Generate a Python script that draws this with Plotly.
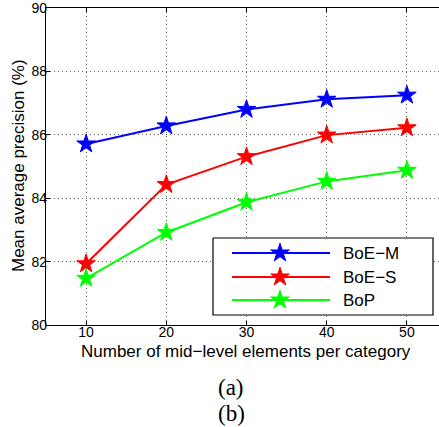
import plotly.graph_objects as go

# ---- data ----
elements = [10, 20, 30, 40, 50]
boe_m = [85.71, 86.28, 86.80, 87.12, 87.25]
boe_s = [81.93, 84.43, 85.31, 85.99, 86.22]
bop = [81.47, 82.92, 83.87, 84.53, 84.88]
series_names = ["BoE\u2212M", "BoE\u2212S", "BoP"]
series_colors = ["#0000ff", "#ff0000", "#00ff00"]
x_ticks = [10, 20, 30, 40, 50]
y_ticks = [80, 82, 84, 86, 88, 90]

W, H = 439, 427
L, R, T, B = 46, 0, 8, 102
PW, PH = W - L - R, H - T - B

FONT = "Liberation Sans, Arial, Helvetica, sans-serif"
SERIF = "Liberation Serif, Times New Roman, serif"


def py(page_y):
    """page pixel y -> paper y"""
    return (T + PH - page_y) / PH


def px(page_x):
    return (page_x - L) / PW


fig = go.Figure()
for name, vals, col in zip(series_names, [boe_m, boe_s, bop], series_colors):
    fig.add_trace(go.Scatter(
        x=elements, y=vals, name=name, mode="lines+markers",
        line=dict(color=col, width=2),
        marker=dict(symbol="star", size=14, color=col,
                    line=dict(color=col, width=1)),
        showlegend=False, xaxis="x", yaxis="y"))

# ---- manual legend (MATLAB style) on a pixel overlay axis ----
bx0, bx1, by0, by1 = 167, 387, 230, 307
rows = [245, 269, 292]
line_x = [186, 284]
star_x = 234
text_x = 295
fig.add_trace(go.Scatter(x=[bx0, bx1, bx1, bx0, bx0], y=[by0, by0, by1, by1, by0],
                         mode="lines", fill="toself", fillcolor="white",
                         line=dict(color="black", width=1.2), showlegend=False,
                         hoverinfo="skip", xaxis="x2", yaxis="y2"))
for name, col, ry in zip(series_names, series_colors, rows):
    fig.add_trace(go.Scatter(x=line_x, y=[ry, ry], mode="lines",
                             line=dict(color=col, width=2), showlegend=False,
                             hoverinfo="skip", xaxis="x2", yaxis="y2"))
    fig.add_trace(go.Scatter(x=[star_x], y=[ry], mode="markers",
                             marker=dict(symbol="star", size=14, color=col,
                                         line=dict(color=col, width=1)),
                             showlegend=False, hoverinfo="skip",
                             xaxis="x2", yaxis="y2"))
    fig.add_annotation(x=text_x, y=ry, xref="x2", yref="y2", text=name,
                       showarrow=False, xanchor="left", yanchor="middle",
                       font=dict(family=FONT, size=17, color="black"))

# axis titles and captions
fig.add_annotation(x=px(246), y=py(351), xref="paper", yref="paper",
                   text="Number of mid\u2212level elements per category",
                   showarrow=False, xanchor="center", yanchor="middle",
                   font=dict(family=FONT, size=17, color="black"))
fig.add_annotation(x=px(18), y=py(166), xref="paper", yref="paper",
                   text="Mean average precision (%)", textangle=-90,
                   showarrow=False, xanchor="center", yanchor="middle",
                   font=dict(family=FONT, size=17, color="black"))
fig.add_annotation(x=px(231), y=py(387), xref="paper", yref="paper",
                   text="(a)", showarrow=False, xanchor="center", yanchor="middle",
                   font=dict(family=SERIF, size=23, color="black"))
fig.add_annotation(x=px(231), y=py(413), xref="paper", yref="paper",
                   text="(b)", showarrow=False, xanchor="center", yanchor="middle",
                   font=dict(family=SERIF, size=23, color="black"))

grid = dict(showgrid=True, gridcolor="#666666", griddash="1px,3px", gridwidth=1)
fig.update_layout(
    width=W, height=H,
    margin=dict(l=L, r=R, t=T, b=B, pad=0),
    paper_bgcolor="white", plot_bgcolor="white",
    font=dict(family=FONT, size=14, color="black"),
    xaxis=dict(range=[5, 5 + PW / 8.02], tickvals=x_ticks, ticks="inside",
               ticklen=4, tickcolor="black", showline=True, linecolor="black",
               linewidth=1.2, mirror="ticks", zeroline=False,
               ticklabelstandoff=-6, ticklabeloverflow="allow",
               tickfont=dict(family=FONT, size=14), **grid),
    yaxis=dict(range=[80, 90], tickvals=y_ticks, ticks="inside",
               ticklen=4, tickcolor="black", showline=True, linecolor="black",
               linewidth=1.2, mirror=False, zeroline=False,
               ticklabelstandoff=-5, ticklabeloverflow="allow",
               tickfont=dict(family=FONT, size=14), **grid),
    xaxis2=dict(range=[0, PW], overlaying="x", visible=False, fixedrange=True),
    yaxis2=dict(range=[PH, 0], overlaying="y", visible=False, fixedrange=True),
    showlegend=False,
)

fig.write_html("out.html",
               config={"displayModeBar": False, "staticPlot": True},
               post_script="document.body.style.margin='0';"
                           "document.body.style.overflow='hidden';")
